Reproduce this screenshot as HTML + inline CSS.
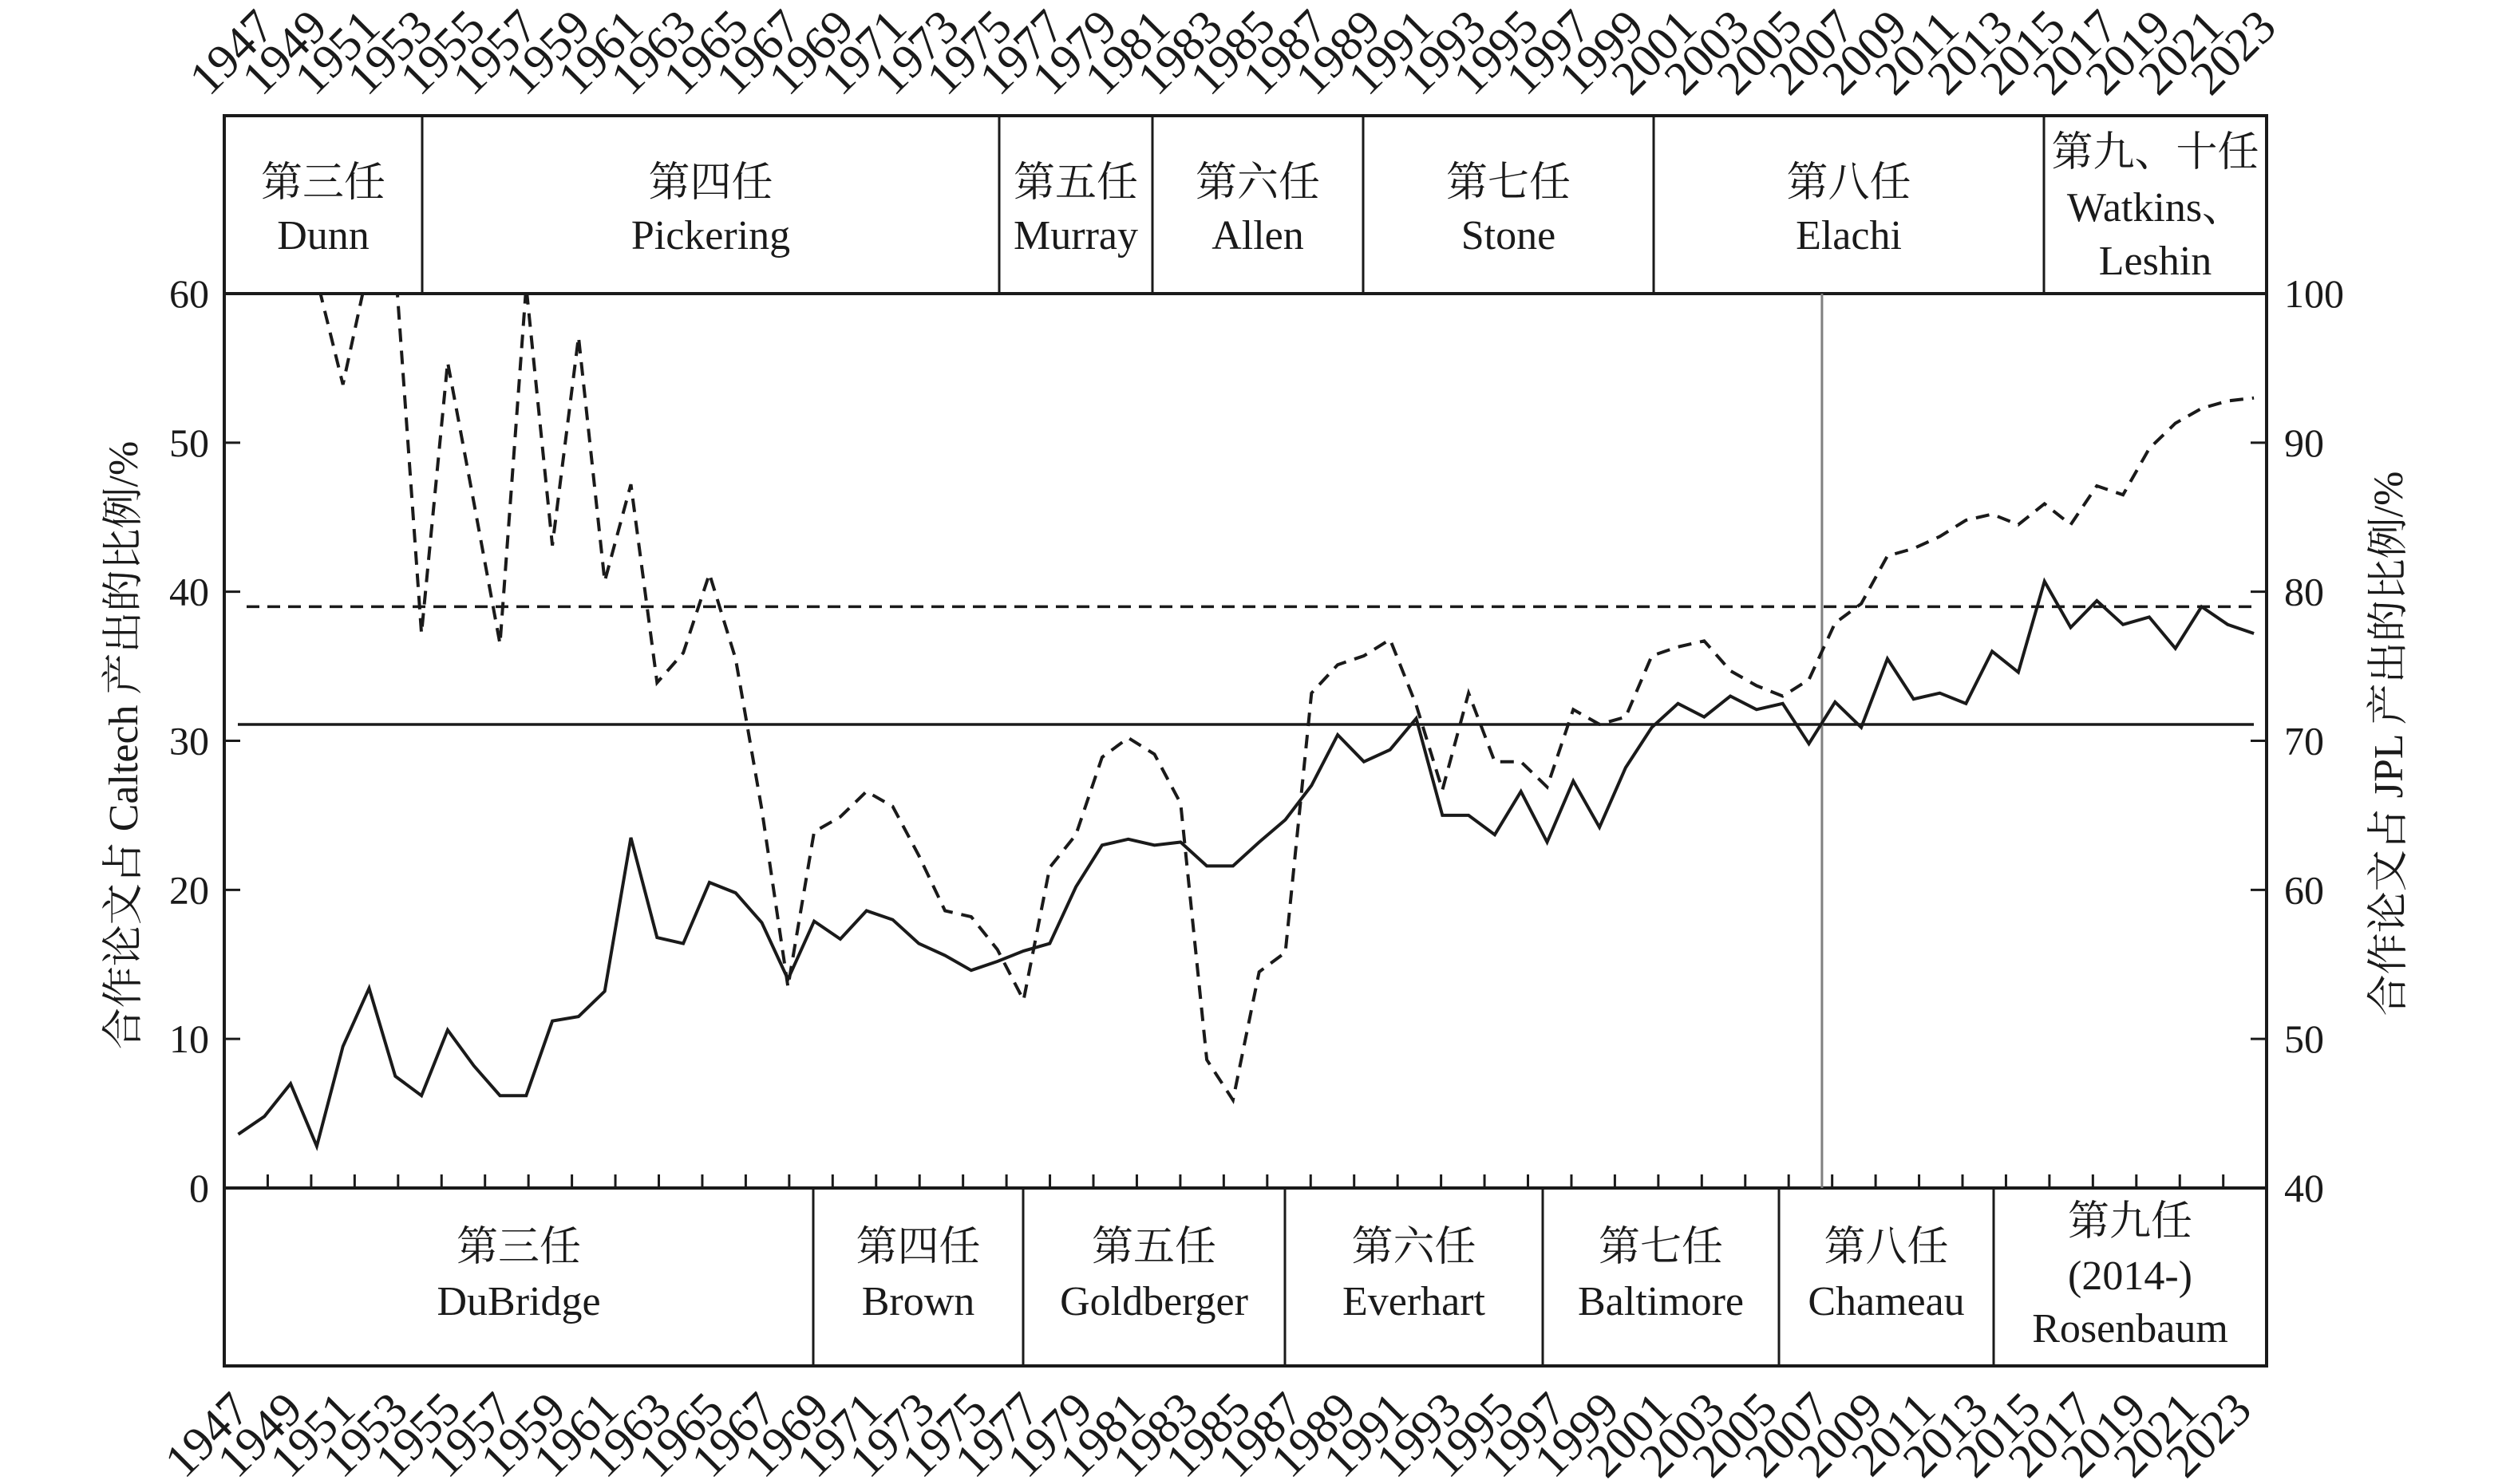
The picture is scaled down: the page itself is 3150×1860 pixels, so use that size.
<!DOCTYPE html>
<html><head><meta charset="utf-8"><style>
html,body{margin:0;padding:0;background:#fff;}
svg{display:block;}
text{font-family:"Liberation Serif","Noto Serif CJK SC",serif;fill:#1a1a1a;}
</style></head><body>
<svg id="chart" width="3150" height="1860" viewBox="0 0 3150 1860" xmlns="http://www.w3.org/2000/svg">
<defs><clipPath id="plotclip"><rect x="281" y="368" width="2559" height="1121"/></clipPath></defs>
<g id="top-box"></g>
<g id="bottom-box"></g>
<g id="grid"></g>
<g id="series" clip-path="url(#plotclip)"></g>
<g id="axes"></g>
<text x="0" y="0" font-size="52" text-anchor="middle" transform="translate(172,934) rotate(-90)">合作论文占 Caltech 产出的比例/%</text>
<text x="0" y="0" font-size="52" text-anchor="middle" transform="translate(3010,932) rotate(-90)">合作论文占 JPL 产出的比例/%</text>
</svg>
<script>
const years = [];
for (let y = 1947; y <= 2024; y++) years.push(y);
const caltechShare = [3.6,4.8,7.0,2.8,9.5,13.4,7.5,6.2,10.6,8.2,6.2,6.2,11.2,11.5,13.2,23.5,16.8,16.4,20.5,19.8,17.8,14.0,17.9,16.7,18.6,18.0,16.4,15.6,14.6,15.2,15.9,16.4,20.2,23.0,23.4,23.0,23.2,21.6,21.6,23.2,24.7,27.0,30.4,28.6,29.4,31.5,25.0,25.0,23.7,26.6,23.2,27.3,24.2,28.2,30.9,32.5,31.6,33.0,32.1,32.5,29.8,32.6,30.9,35.5,32.8,33.2,32.5,36.0,34.6,40.7,37.6,39.4,37.8,38.3,36.2,39.0,37.8,37.2];
const jplShare = [101,101,101,101,93.9,102,102,77.2,95.4,86.0,76.5,100.5,83.1,97.1,80.7,87.2,73.9,75.9,81.2,75.5,65.4,53.5,63.9,64.9,66.6,65.6,62.3,58.6,58.2,56.0,52.6,61.5,63.7,68.9,70.2,69.1,65.8,48.6,45.9,54.5,55.8,73.2,75.1,75.7,76.8,72.4,66.7,73.2,68.6,68.6,66.9,72.1,71.1,71.6,75.7,76.3,76.7,74.7,73.7,73.0,74.1,77.9,79.2,82.4,82.9,83.7,84.8,85.2,84.5,85.9,84.5,87.1,86.5,89.6,91.3,92.3,92.8,93.0];
const caltechAvg = 31.1;
const jplAvg = 79.0;
const leftTicks = [0,10,20,30,40,50,60];
const rightTicks = [40,50,60,70,80,90,100];
const yearLabels = [];
for (let y = 1947; y <= 2023; y += 2) yearLabels.push(String(y));
const topNames = [["第三任","Dunn"],["第四任","Pickering"],["第五任","Murray"],["第六任","Allen"],["第七任","Stone"],["第八任","Elachi"],["第九、十任","Watkins、","Leshin"]];
const bottomNames = [["第三任","DuBridge"],["第四任","Brown"],["第五任","Goldberger"],["第六任","Everhart"],["第七任","Baltimore"],["第八任","Chameau"],["第九任","(2014-)","Rosenbaum"]];
const transitionYear = 2007.5;

const NS = "http://www.w3.org/2000/svg";
const L = 281, R = 2840, T = 368, B = 1489;
const X0 = 298.5, XSTEP = 32.8;
function xs(i){ return X0 + i * XSTEP; }
function xYear(yr){ return X0 + (yr - years[0]) * XSTEP; }
function yL(v){ return B - v * (B - T) / 60; }
function yR(v){ return B - (v - 40) * (B - T) / 60; }
function mk(tag, attrs, parent){ const e = document.createElementNS(NS, tag); for (const k in attrs) e.setAttribute(k, attrs[k]); parent.appendChild(e); return e; }

const grid = document.getElementById('grid');
const series = document.getElementById('series');
const axes = document.getElementById('axes');
const topBox = document.getElementById('top-box');
const botBox = document.getElementById('bottom-box');

const topDiv = [L,529,1252,1444,1708,2072,2561,R];
const botDiv = [L,1019,1282,1610,1933,2229,2498,R];
let r1 = mk('rect',{x:L,y:145,width:R-L,height:T-145,fill:'none',stroke:'#1a1a1a','stroke-width':4},topBox);
 
let r2 = mk('rect',{x:L,y:B,width:R-L,height:1712-B,fill:'none',stroke:'#1a1a1a','stroke-width':4},botBox);
 
for (let i = 1; i < topDiv.length-1; i++){
  const d = mk('line',{x1:topDiv[i],x2:topDiv[i],y1:145,y2:T,stroke:'#1a1a1a','stroke-width':3},topBox);
   
}
for (let i = 1; i < botDiv.length-1; i++){
  const d = mk('line',{x1:botDiv[i],x2:botDiv[i],y1:B,y2:1712,stroke:'#1a1a1a','stroke-width':3},botBox);
   
}
topNames.forEach((n,i)=>{
  const cx = (topDiv[i]+topDiv[i+1])/2;
  const ys = n.length===2 ? [246,312] : [208,277,344];
  n.forEach((s,j)=>{
    const t = mk('text',{x:cx,y:ys[j],'font-size':52,'text-anchor':'middle'},topBox);
    t.textContent = s;
     
  });
});
bottomNames.forEach((n,i)=>{
  const cx = (botDiv[i]+botDiv[i+1])/2;
  const ys = n.length===2 ? [1580,1648] : [1548,1616,1682];
  n.forEach((s,j)=>{
    const t = mk('text',{x:cx,y:ys[j],'font-size':52,'text-anchor':'middle'},botBox);
    t.textContent = s;
     
  });
});

let h1 = mk('line',{x1:298,x2:2824,y1:yL(caltechAvg),y2:yL(caltechAvg),stroke:'#1a1a1a','stroke-width':3.5},grid);
 
let h2 = mk('line',{x1:309,x2:2824,y1:yR(jplAvg),y2:yR(jplAvg),stroke:'#1a1a1a','stroke-width':3.5,'stroke-dasharray':'16 10'},grid);
 
let vx = xYear(transitionYear);
let v1 = mk('line',{x1:vx,x2:vx,y1:T,y2:B,stroke:'#808080','stroke-width':3},grid);
 

const p1 = caltechShare.map((v,i)=>xs(i).toFixed(1)+','+yL(v).toFixed(1)).join(' ');
let s1 = mk('polyline',{points:p1,fill:'none',stroke:'#1a1a1a','stroke-width':4,'stroke-linejoin':'miter'},series);
 
const p2 = jplShare.map((v,i)=>xs(i).toFixed(1)+','+yR(v).toFixed(1)).join(' ');
let s2 = mk('polyline',{points:p2,fill:'none',stroke:'#1a1a1a','stroke-width':4,'stroke-dasharray':'17 11'},series);
 

let fr = mk('path',{d:`M${L},${T} L${L},${B} M${R},${T} L${R},${B}`,stroke:'#1a1a1a','stroke-width':4,fill:'none'},axes);
 
leftTicks.forEach(v=>{
  const y = yL(v);
  const t = mk('line',{x1:L,x2:L+20,y1:y,y2:y,stroke:'#1a1a1a','stroke-width':3},axes);
   
  const tx = mk('text',{x:262,y:y+17,'font-size':50,'text-anchor':'end'},axes);
  tx.textContent = v;
   
});
rightTicks.forEach(v=>{
  const y = yR(v);
  const t = mk('line',{x1:R-20,x2:R,y1:y,y2:y,stroke:'#1a1a1a','stroke-width':3},axes);
   
  const tx = mk('text',{x:2862,y:y+17,'font-size':50,'text-anchor':'start'},axes);
  tx.textContent = v;
   
});
for (let k = 1; k < 47; k++){
  const x = L + k * 54.45;
  const t = mk('line',{x1:x,x2:x,y1:B-17,y2:B,stroke:'#1a1a1a','stroke-width':3},axes);
   
}
yearLabels.forEach((s,i)=>{
  const xt = 262 + i * 66.0;
  const a = mk('text',{x:0,y:0,'font-size':60,'text-anchor':'start',transform:`translate(${xt},122) rotate(-45)`},axes);
  a.textContent = s;
   
  const xb = 316 + i * 66.0;
  const b = mk('text',{x:0,y:0,'font-size':60,'text-anchor':'end',transform:`translate(${xb},1770) rotate(-45)`},axes);
  b.textContent = s;
   
});
</script>
</body></html>
